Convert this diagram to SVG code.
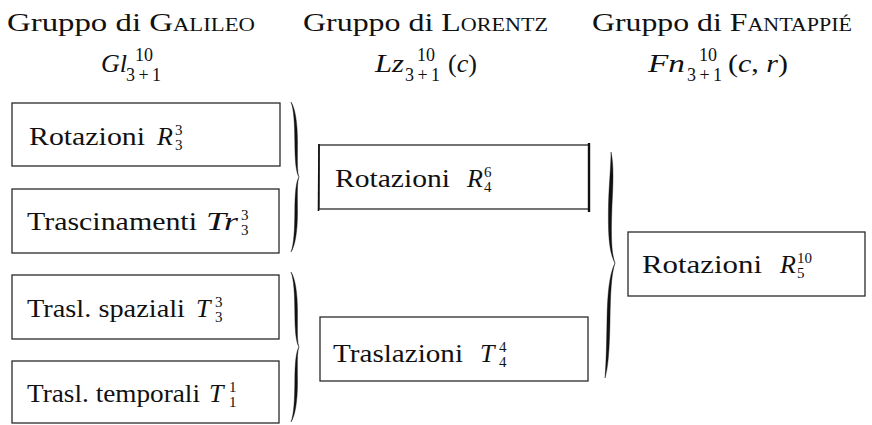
<svg xmlns="http://www.w3.org/2000/svg" width="872" height="425" viewBox="0 0 872 425">
  <defs>
    <!-- curly brace, 150 tall, tip pointing right at mid height -->
    <path id="brace" fill="#111" stroke="#111" stroke-width="0.4" d="M0,0 C4,6 6.5,20 6.5,40 C6.5,60 6,70 8,75 C5,70 4,60 3.8,40 C3.6,22 3,8 0,0 Z M0,150 C4,144 6.5,130 6.5,110 C6.5,90 6,80 8,75 C5,80 4,90 3.8,110 C3.6,128 3,142 0,150 Z"/>
  </defs>
  <rect width="872" height="425" fill="#fff"/>

  <!-- column headings -->
  <g id="head-galileo" fill="#111">
    <text font-family="Liberation Serif" font-size="26" x="7" y="31" textLength="248" lengthAdjust="spacingAndGlyphs">Gruppo di <tspan font-variant="small-caps">Galileo</tspan></text>
    <text font-family="Liberation Serif" font-size="26" font-style="italic" x="101" y="72">Gl</text>
    <text font-family="Liberation Serif" font-size="18" x="135" y="61">10</text>
    <text font-family="Liberation Serif" font-size="18" x="126" y="81" textLength="35" lengthAdjust="spacing">3+1</text>
  </g>
  <g id="head-lorentz" fill="#111">
    <text font-family="Liberation Serif" font-size="26" x="303" y="31" textLength="245" lengthAdjust="spacingAndGlyphs">Gruppo di <tspan font-variant="small-caps">Lorentz</tspan></text>
    <text font-family="Liberation Serif" font-size="26" font-style="italic" x="375" y="72" textLength="29" lengthAdjust="spacingAndGlyphs">Lz</text>
    <text font-family="Liberation Serif" font-size="18" x="417" y="61">10</text>
    <text font-family="Liberation Serif" font-size="18" x="405" y="81" textLength="35" lengthAdjust="spacing">3+1</text>
    <text font-family="Liberation Serif" font-size="26" x="448" y="72" textLength="29" lengthAdjust="spacingAndGlyphs">(<tspan font-style="italic">c</tspan>)</text>
  </g>
  <g id="head-fantappie" fill="#111">
    <text font-family="Liberation Serif" font-size="26" x="592" y="31" textLength="260" lengthAdjust="spacingAndGlyphs">Gruppo di <tspan font-variant="small-caps">Fantappié</tspan></text>
    <text font-family="Liberation Serif" font-size="26" font-style="italic" x="648" y="72" textLength="37" lengthAdjust="spacingAndGlyphs">Fn</text>
    <text font-family="Liberation Serif" font-size="18" x="699" y="61">10</text>
    <text font-family="Liberation Serif" font-size="18" x="687" y="81" textLength="35" lengthAdjust="spacing">3+1</text>
    <text font-family="Liberation Serif" font-size="26" x="728" y="72" textLength="60" lengthAdjust="spacingAndGlyphs">(<tspan font-style="italic">c</tspan>, <tspan font-style="italic">r</tspan>)</text>
  </g>

  <!-- Galileo group components -->
  <g id="g-rotazioni" fill="#111">
    <rect x="12" y="103" width="268" height="63" fill="none" stroke="#2a2a2a" stroke-width="1.3"/>
    <text font-family="Liberation Serif" font-size="26" x="29" y="145" textLength="116" lengthAdjust="spacingAndGlyphs">Rotazioni</text>
    <text font-family="Liberation Serif" font-size="26" font-style="italic" x="157" y="145">R</text>
    <text font-family="Liberation Serif" font-size="15" x="175" y="135">3</text>
    <text font-family="Liberation Serif" font-size="15" x="175" y="150">3</text>
  </g>
  <g id="g-trascinamenti" fill="#111">
    <rect x="12" y="189" width="267" height="64" fill="none" stroke="#2a2a2a" stroke-width="1.3"/>
    <text font-family="Liberation Serif" font-size="26" x="27" y="230" textLength="170" lengthAdjust="spacingAndGlyphs">Trascinamenti</text>
    <text font-family="Liberation Serif" font-size="26" font-style="italic" x="206" y="230" textLength="32" lengthAdjust="spacingAndGlyphs">Tr</text>
    <text font-family="Liberation Serif" font-size="15" x="241" y="220">3</text>
    <text font-family="Liberation Serif" font-size="15" x="241" y="235">3</text>
  </g>
  <g id="g-trasl-spaziali" fill="#111">
    <rect x="12" y="275" width="267" height="64" fill="none" stroke="#2a2a2a" stroke-width="1.3"/>
    <text font-family="Liberation Serif" font-size="26" x="27" y="317" textLength="158" lengthAdjust="spacingAndGlyphs">Trasl. spaziali</text>
    <text font-family="Liberation Serif" font-size="26" font-style="italic" x="196" y="317">T</text>
    <text font-family="Liberation Serif" font-size="15" x="215" y="307">3</text>
    <text font-family="Liberation Serif" font-size="15" x="215" y="322">3</text>
  </g>
  <g id="g-trasl-temporali" fill="#111">
    <rect x="12" y="361" width="267" height="62" fill="none" stroke="#2a2a2a" stroke-width="1.3"/>
    <text font-family="Liberation Serif" font-size="26" x="27" y="402" textLength="173" lengthAdjust="spacingAndGlyphs">Trasl. temporali</text>
    <text font-family="Liberation Serif" font-size="26" font-style="italic" x="209" y="402">T</text>
    <text font-family="Liberation Serif" font-size="15" x="229" y="392">1</text>
    <text font-family="Liberation Serif" font-size="15" x="229" y="407">1</text>
  </g>

  <!-- Lorentz group components -->
  <g id="l-rotazioni" fill="#111">
    <rect x="319" y="145" width="270" height="64" fill="none" stroke="#2a2a2a" stroke-width="1.3"/>
    <line x1="589" y1="143" x2="589" y2="212" stroke="#111" stroke-width="2.4"/>
    <line x1="319" y1="144" x2="318.5" y2="211" stroke="#111" stroke-width="1.6"/>
    <text font-family="Liberation Serif" font-size="26" x="335" y="187" textLength="115" lengthAdjust="spacingAndGlyphs">Rotazioni</text>
    <text font-family="Liberation Serif" font-size="26" font-style="italic" x="467" y="187">R</text>
    <text font-family="Liberation Serif" font-size="15" x="484" y="177">6</text>
    <text font-family="Liberation Serif" font-size="15" x="484" y="192">4</text>
  </g>
  <g id="l-traslazioni" fill="#111">
    <rect x="320" y="317" width="268" height="64" fill="none" stroke="#2a2a2a" stroke-width="1.3"/>
    <text font-family="Liberation Serif" font-size="26" x="333" y="362" textLength="130" lengthAdjust="spacingAndGlyphs">Traslazioni</text>
    <text font-family="Liberation Serif" font-size="26" font-style="italic" x="480" y="362">T</text>
    <text font-family="Liberation Serif" font-size="15" x="499" y="352">4</text>
    <text font-family="Liberation Serif" font-size="15" x="499" y="367">4</text>
  </g>

  <!-- Fantappié group -->
  <g id="f-rotazioni" fill="#111">
    <rect x="628" y="232" width="237" height="64" fill="none" stroke="#2a2a2a" stroke-width="1.3"/>
    <text font-family="Liberation Serif" font-size="26" x="642" y="273" textLength="120" lengthAdjust="spacingAndGlyphs">Rotazioni</text>
    <text font-family="Liberation Serif" font-size="26" font-style="italic" x="780" y="273">R</text>
    <text font-family="Liberation Serif" font-size="15" x="797" y="263">10</text>
    <text font-family="Liberation Serif" font-size="15" x="797" y="278">5</text>
  </g>

  <!-- braces joining components -->
  <g id="connectors">
    <use href="#brace" transform="translate(291,102)"/>
    <use href="#brace" transform="translate(291,272)"/>
    <path fill="#111" stroke="#111" stroke-width="0.4" d="M611,152 C614,165 613,185 612,205 C611,235 611,252 615,263 C609,252 608,235 608.5,205 C609,185 611,165 611,152 Z M615,263 C611,275 610.5,295 610,320 C609.5,350 608,368 605,378 C606,366 606.5,350 607,320 C607.5,295 609,275 615,263 Z"/>
  </g>
</svg>
